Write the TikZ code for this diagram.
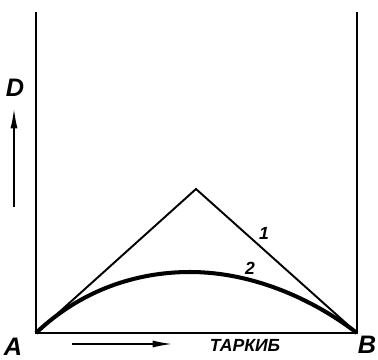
\documentclass[tikz,border=0pt]{standalone}
\usepackage{fontspec}
\setmainfont{Liberation Sans}
\usepackage{tikz}
\usetikzlibrary{arrows.meta,positioning}

\begin{document}
\begin{tikzpicture}[
  x=0.02cm,y=0.02cm,
  font=\bfseries\itshape,
  lbl/.style={inner sep=0pt,font=\bfseries\itshape\Large},
  thinline/.style={line width=1.1pt},
  curve/.style={line width=2.3pt},
  arrow/.style={-{Latex[length=11pt,width=4pt]},line width=0.8pt},
]
\useasboundingbox (0,0) rectangle (378,359);
\coordinate (A) at (36,26);
\coordinate (B) at (357,26);
\coordinate (atop) at (36,347);
\coordinate (btop) at (357,347);
\coordinate (apex) at (196,170);
\coordinate (peak) at (190,87);
% walls and base
\draw[thinline] (atop) -- (A) -- (B) -- (btop);
% line 1
\draw[thinline] (A) -- (apex) -- (B);
% curve 2
\draw[curve] (A) .. controls (80,68) and (135,87) .. (peak)
  .. controls (250,87) and (310,62) .. (B);
% labels
\node[lbl] (la) at (13,12) {A};
\node[lbl] (lb) at (367,14) {B};
\node[lbl] (ld) at (15,271) {D};
\node[lbl,font=\bfseries\itshape] (l1) at (264,126) {1};
\node[lbl,font=\bfseries\itshape] (l2) at (250,91) {2};
\node[lbl,font=\bfseries\itshape] (tarkib) at (245,14) {ТАРКИБ};
% arrows
\coordinate (d0) at (14,152);
\coordinate (d1) at (14,250);
\coordinate (t0) at (72,15);
\coordinate (t1) at (172,15);
\draw[arrow] (d0) -- (d1);
\draw[arrow] (t0) -- (t1);
\end{tikzpicture}
\end{document}
